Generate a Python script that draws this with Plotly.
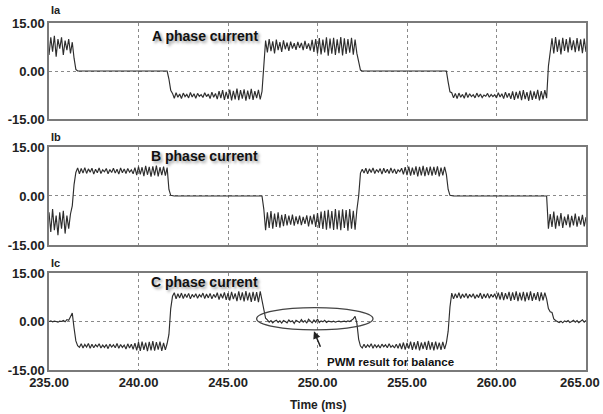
import numpy as np
import plotly.graph_objects as go

# ---------------- data (values sampled every 0.1 ms, 235.0 .. 265.0 ms) ----------------
t_start, t_step = 235.0, 0.1

# Phase A
a_pos0 = [5.0, 10.5, 6.0, 11.0, 4.5, 10.0, 7.0, 10.5, 5.0, 9.5, 6.5, 10.0, 5.5, 9.0]
a_tr1 = [4.0, 0.5]
a_off1 = [0.0] * 51
a_tr2 = [-2.5, -6.0]
a_neg1 = [-7.0, -8.5, -6.8, -8.2, -7.2, -8.6, -6.9, -8.0, -7.3, -8.4,
          -6.7, -8.1, -7.1, -8.5, -7.0, -7.9, -7.4, -8.3, -6.8, -8.0,
          -7.2, -8.6, -6.6, -8.2, -7.0, -8.8, -6.3, -8.5, -6.0, -9.0,
          -6.5, -8.7, -5.8, -9.2, -6.2, -8.9, -5.5, -9.1, -6.0, -8.6,
          -5.7, -9.3, -6.1, -8.8, -5.6, -9.0, -6.3, -8.5, -5.9, -8.9, -6.4]
a_tr3 = [1.0]
a_pos1 = [9.5, 5.8, 10.0, 6.2, 9.3, 5.5, 9.8, 6.5, 9.0, 6.0,
          9.6, 6.8, 8.9, 6.3, 9.2, 7.0, 8.7, 6.6, 9.1, 7.2,
          8.8, 6.5, 9.4, 6.9, 8.6, 6.4, 9.7, 6.0, 10.0, 5.5,
          10.3, 5.2, 9.8, 5.8, 10.5, 4.8, 10.1, 5.4, 10.4, 5.0,
          9.9, 5.6, 10.6, 4.9, 10.2, 5.3, 10.0, 5.7, 10.4, 5.1, 9.8, 5.5]
a_tr4 = [3.0, 0.3]
a_off2 = [0.0] * 48
a_tr5 = [-3.5, -6.5]
a_neg2 = [-6.8, -8.4, -7.0, -8.6, -6.9, -8.2, -7.3, -8.5, -6.7, -8.3,
          -7.1, -8.0, -7.4, -8.4, -6.9, -8.1, -7.2, -8.3, -7.5, -7.9,
          -7.0, -8.2, -7.3, -8.0, -7.4, -8.4, -6.8, -8.1, -7.1, -8.6,
          -6.6, -8.3, -6.9, -8.7, -6.4, -9.0, -6.5, -8.6, -6.2, -9.1,
          -6.0, -8.8, -6.6, -9.3, -6.1, -9.0, -6.4, -8.7, -5.9, -9.2,
          -6.3, -8.9, -6.0, -8.5]
a_tr6 = [1.5, 6.5]
a_pos2 = [10.2, 5.5, 10.6, 6.0, 9.8, 5.2, 10.4, 6.3, 10.0, 5.8,
          10.5, 6.5, 9.6, 5.9, 10.3, 6.2, 9.9, 5.6, 10.1, 6.0]

# Phase B
b_neg0 = [-5.0, -11.0, -4.0, -10.5, -6.0, -12.0, -5.0, -10.0, -4.5, -11.5, -6.0, -10.0, -5.5]
b_tr1 = [-3.0, 3.5]
b_pos1 = [7.2, 8.6, 6.8, 8.4, 7.0, 8.7, 6.9, 8.3, 7.3, 8.5,
          6.7, 8.2, 7.1, 8.6, 6.9, 8.0, 7.4, 8.4, 6.8, 8.1,
          7.2, 8.5, 7.0, 8.2, 6.7, 8.6, 7.1, 8.3, 6.9, 8.4,
          7.3, 8.0, 6.8, 8.7, 6.4, 9.0, 6.6, 8.8, 6.1, 9.2,
          6.5, 8.9, 5.9, 9.1, 6.3, 9.3, 6.0, 8.8, 6.4, 9.0, 6.2, 8.7]
b_tr2 = [2.0, 0.2]
b_off1 = [0.0] * 51
b_tr3 = [-4.0]
b_neg1 = [-10.5, -5.0, -9.8, -4.6, -10.0, -5.4, -9.5, -5.0, -9.7, -5.8,
          -9.2, -5.5, -9.0, -6.0, -8.8, -5.7, -9.1, -6.2, -8.6, -6.0,
          -8.9, -6.4, -8.5, -5.9, -9.3, -6.1, -8.7, -5.6, -9.5, -5.2,
          -9.8, -4.8, -10.1, -4.5, -10.3, -4.2, -9.9, -4.6, -10.4, -4.0,
          -10.2, -4.4, -10.5, -4.1, -9.8, -4.3, -10.6, -4.0, -10.0, -4.5,
          -10.3, -4.2]
b_tr4 = [0.0, 7.0]
b_pos2 = [8.2, 7.0, 8.5, 6.8, 8.3, 7.2, 8.6, 6.9, 8.1, 7.3,
          8.4, 6.7, 8.5, 7.1, 8.2, 6.9, 8.6, 7.0, 8.3, 6.8,
          8.0, 7.4, 8.5, 6.6, 8.8, 6.4, 9.0, 6.2, 8.7, 6.5,
          9.1, 6.0, 8.9, 6.3, 9.2, 6.1, 8.8, 6.4, 9.0, 6.2,
          8.9, 6.5, 9.1, 6.0, 8.7, 6.3, 8.9, 6.6]
b_tr5 = [2.0, 0.2]
b_off2 = [0.0] * 54
b_tr6 = [-10.0]
b_neg2 = [-5.5, -9.5, -4.8, -10.0, -6.0, -9.2, -5.2, -9.8, -6.3, -8.9,
          -5.6, -9.6, -6.1, -9.0, -5.4, -9.4, -6.2, -8.8, -5.8, -9.3, -6.5]

# Phase C
c_off0 = [0.0, 0.2, -0.1, 0.1, 0.0, -0.2, 0.1, 0.0, 0.3, -0.1, 0.6]
c_tr1 = [0.4, 1.5, 2.6, -2.0, -6.0, -7.5]
c_neg1 = [-8.0, -6.9, -8.2, -7.1, -7.9, -6.8, -8.3, -7.0, -8.1, -7.2,
          -7.8, -6.9, -8.2, -7.3, -8.0, -7.1, -8.4, -7.0, -7.9, -7.2,
          -8.1, -6.8, -8.3, -7.1, -8.0, -7.3, -8.5, -6.9, -8.2, -7.0,
          -8.6, -6.7, -8.9, -6.4, -9.1, -6.2, -8.8, -6.5, -9.2, -6.3,
          -8.9, -6.1, -9.0, -6.4, -8.7, -6.2, -9.1, -6.6, -8.8, -6.8]
c_tr2 = [-4.0, 4.0]
c_pos1 = [7.8, 8.9, 7.0, 8.6, 7.3, 8.8, 7.1, 8.5, 7.4, 8.7,
          7.0, 8.4, 7.5, 8.6, 7.2, 8.3, 7.6, 8.8, 7.1, 8.5,
          7.3, 8.7, 7.0, 8.4, 7.4, 8.9, 6.8, 8.6, 7.2, 9.0,
          6.7, 8.8, 6.5, 9.2, 6.9, 8.7, 6.3, 9.3, 6.6, 9.0,
          6.2, 9.4, 6.5, 8.9, 6.1, 9.2, 6.4, 9.1, 6.0, 9.3, 6.5]
c_tr3 = [4.0, 1.0]
c_bal = [0.5, -0.2, 0.3, -0.4, 0.1, 0.4, -0.3, 0.2, -0.5, 0.3,
         0.0, -0.4, 0.5, -0.1, 0.2, -0.6, 0.4, 0.1, -0.3, 0.6,
         -0.2, 0.3, -0.5, 0.7, 0.0, -0.4, 0.5, -0.2, 0.8, -0.3,
         0.2, -0.1, 0.4, -0.3, 0.1, 0.0, -0.1, 0.1, -0.2, 0.0,
         0.1, -0.1, 0.0, 0.1, -0.1, 0.2, 0.0, 0.3, 0.8, 1.6]
c_tr4 = [-0.5, -5.5]
c_neg2 = [-7.6, -8.2, -7.0, -8.1, -7.2, -7.9, -6.9, -8.3, -7.1, -8.0,
          -7.3, -8.2, -7.0, -7.8, -7.2, -8.1, -6.9, -8.0, -7.4, -8.2,
          -7.0, -8.3, -6.8, -8.5, -6.5, -8.7, -6.6, -8.4, -6.2, -8.8,
          -6.4, -8.6, -6.1, -8.9, -6.5, -8.5, -6.3, -8.8, -6.0, -8.7,
          -6.4, -8.9, -6.2, -8.6, -6.5, -8.8, -6.3, -8.5, -6.6]
c_tr5 = [-3.0, 4.5]
c_pos2 = [8.8, 7.0, 8.6, 7.3, 8.9, 7.1, 8.5, 7.4, 8.7, 7.2,
          8.4, 7.5, 8.6, 7.1, 8.3, 7.4, 8.8, 7.0, 8.5, 7.3,
          8.7, 7.2, 8.4, 7.5, 8.6, 7.0, 8.9, 6.8, 9.1, 6.6,
          8.8, 6.9, 9.2, 6.4, 9.0, 6.7, 9.3, 6.3, 8.9, 6.5,
          9.2, 6.2, 9.0, 6.6, 9.3, 6.4, 8.8, 6.7, 9.1, 6.3,
          9.0, 6.5, 8.9, 7.0]
c_tail = [4.0, 3.0, 2.8, 0.8, 0.3, 0.0, -0.3, 0.1, -0.4, 0.2, -0.1,
          0.3, -0.3, 0.0, 0.4, -0.2, 0.3, -0.4, 0.1, 0.5, -0.2, 0.3]

ia = (a_pos0 + a_tr1 + a_off1 + a_tr2 + a_neg1 + a_tr3 + a_pos1 + a_tr4 + a_off2
      + a_tr5 + a_neg2 + a_tr6 + a_pos2)
ib = (b_neg0 + b_tr1 + b_pos1 + b_tr2 + b_off1 + b_tr3 + b_neg1 + b_tr4 + b_pos2
      + b_tr5 + b_off2 + b_tr6 + b_neg2)
ic = (c_off0 + c_tr1 + c_neg1 + c_tr2 + c_pos1 + c_tr3 + c_bal + c_tr4 + c_neg2
      + c_tr5 + c_pos2 + c_tail)

x_ticks = [235, 240, 245, 250, 255, 260, 265]
x_ticktext = ["235.00", "240.00", "245.00", "250.00", "255.00", "260.00", "265.00"]
y_ticks = [-15, 0, 15]
y_ticktext = ["-15.00", "0.00", "15.00"]
panel_names = ["Ia", "Ib", "Ic"]
panel_titles = ["A phase current", "B phase current", "C phase current"]

# ---------------- figure ----------------
FONT = "Liberation Sans, Arial, sans-serif"
LINE = "#2e2e2e"
FRAME = "#7a7a7a"
GRID = "#8a8a8a"
TICKFONT = dict(family=FONT, size=13, weight="bold", color="#222")

fig = go.Figure()
series = [ia, ib, ic]
suffixes = ["", "2", "3"]
for vals, s in zip(series, suffixes):
    tt = t_start + t_step * np.arange(len(vals))
    fig.add_trace(go.Scatter(x=tt, y=vals, mode="lines",
                             line=dict(color=LINE, width=1.15),
                             xaxis="x" + s, yaxis="y" + s, showlegend=False,
                             hoverinfo="skip"))

domains = [[0.7233, 1.0], [0.3602, 0.6427], [0.0, 0.2795]]
layout = dict(
    width=603, height=414,
    margin=dict(l=49, r=17, t=23, b=44, autoexpand=False),
    paper_bgcolor="white", plot_bgcolor="white",
    font=dict(family=FONT, color="#222", size=13),
    showlegend=False,
)
# the last x tick label sits flush with the right edge of the picture, so it is
# drawn as a right-anchored annotation instead of a centred tick label
x_axis_text = x_ticktext[:-1] + [""]
for i, s in enumerate(suffixes):
    xa = dict(range=[235, 265], tickvals=x_ticks, ticktext=x_axis_text,
              showgrid=True, gridcolor=GRID, griddash="dot", gridwidth=1,
              showline=True, linecolor=FRAME, linewidth=1.5, mirror=True,
              zeroline=False, ticks="", anchor="y" + s, automargin=False,
              ticklabeloverflow="allow",
              showticklabels=(i == 2), tickfont=TICKFONT)
    ya = dict(range=[-15, 15], tickvals=y_ticks, ticktext=y_ticktext,
              domain=domains[i], automargin=False,
              showgrid=True, gridcolor=GRID, griddash="dot", gridwidth=1,
              showline=True, linecolor=FRAME, linewidth=1.5, mirror=True,
              zeroline=False, ticks="", anchor="x" + s, tickfont=TICKFONT)
    layout["xaxis" + s] = xa
    layout["yaxis" + s] = ya
fig.update_layout(**layout)

fig.add_annotation(xref="paper", yref="paper", x=1.0298, y=-0.0346,
                   xanchor="right", yanchor="middle", showarrow=False,
                   text=x_ticktext[-1], font=TICKFONT)

label_y = [1.0375, 0.6715, 0.3084]
title_y = [0.9625, 0.6165, 0.2535]
for i in range(3):
    fig.add_annotation(xref="paper", yref="paper", x=0.0, y=label_y[i],
                       xanchor="left", yanchor="middle", showarrow=False,
                       text=panel_names[i],
                       font=dict(family=FONT, size=11, weight="bold", color="#222"))
    fig.add_annotation(xref="paper", yref="paper", x=0.2896, y=title_y[i],
                       xanchor="center", yanchor="middle", showarrow=False,
                       text=panel_titles[i],
                       font=dict(family=FONT, size=14, weight="bold", color="#111",
                                 shadow="2px 2px 3px #9a9a9a"))

fig.add_annotation(xref="paper", yref="paper", x=0.5, y=-0.101,
                   xanchor="center", yanchor="middle", showarrow=False,
                   text="Time (ms)",
                   font=dict(family=FONT, size=12, weight="bold", color="#222"))

# ellipse around balanced region
fig.add_shape(type="circle", xref="x3", yref="y3",
              x0=246.6, x1=253.1, y0=-2.6, y1=4.3,
              line=dict(color="#444", width=1.3))

# arrow and its label
fig.add_annotation(xref="x3", yref="y3", x=249.8, y=-3.0,
                   axref="pixel", ayref="pixel", ax=10, ay=24,
                   text=" ", showarrow=True, arrowhead=2, arrowsize=1,
                   arrowwidth=1.5, arrowcolor="#222", standoff=0, startstandoff=0)
fig.add_annotation(xref="paper", yref="paper", x=0.5140, y=0.0230,
                   xanchor="left", yanchor="middle", showarrow=False,
                   text="PWM result for balance",
                   font=dict(family=FONT, size=11.5, weight="bold", color="#111"))

fig.write_html("out.html",
               config={"displayModeBar": False},
               post_script="document.body.style.margin='0';"
                           "document.body.style.overflow='hidden';")
